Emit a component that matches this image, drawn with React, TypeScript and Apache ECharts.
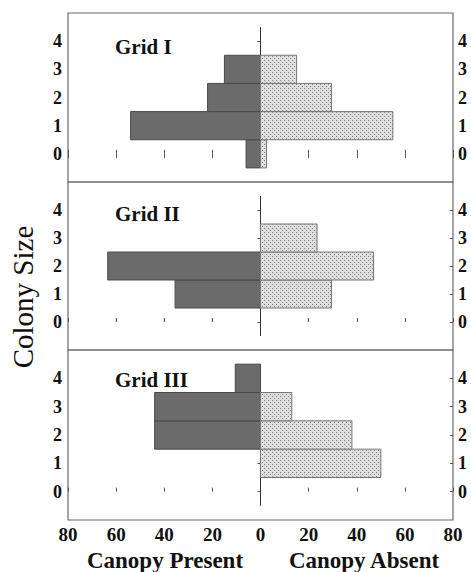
import React, { useEffect, useRef } from "react";
import * as echarts from "echarts";

// Colony sizes (y categories) and tick values
const colonySizes = [0, 1, 2, 3, 4];

// Percent of colonies per size class (Canopy Present drawn to the left)
const grid1Present = [6, 54, 22, 15, 0];
const grid1Absent = [2.5, 55, 29.5, 15, 0];
const grid2Present = [0, 35.5, 63.5, 0, 0];
const grid2Absent = [0, 29.5, 47, 23.5, 0];
const grid3Present = [0, 0, 44, 44, 10.5];
const grid3Absent = [0, 50, 38, 13, 0];

const panelNames = ["Grid I", "Grid II", "Grid III"];
const presentSets = [grid1Present, grid2Present, grid3Present];
const absentSets = [grid1Absent, grid2Absent, grid3Absent];

const SERIF = "'Liberation Serif', 'DejaVu Serif', serif";

export default function App() {
  const ref = useRef<HTMLDivElement>(null);

  useEffect(() => {
    if (!ref.current) return;
    const chart = echarts.init(ref.current, null, { renderer: "svg" });

    // dotted pattern for "Canopy Absent" bars
    const cv = document.createElement("canvas");
    cv.width = 4;
    cv.height = 4;
    const ctx = cv.getContext("2d")!;
    ctx.fillStyle = "#dedede";
    ctx.fillRect(0, 0, 4, 4);
    ctx.fillStyle = "#7a7a7a";
    ctx.fillRect(0, 0, 1, 1);
    ctx.fillRect(2, 2, 1, 1);
    const dotFill: any = { image: cv, repeat: "repeat" };

    const gridTops = [13, 182, 350];
    const gridHeights = [169, 168, 170];
    const gridLeft = 68;
    const gridRight = 18;

    const grids = gridTops.map((t, i) => ({
      left: gridLeft,
      right: gridRight,
      top: t,
      height: gridHeights[i],
      show: true,
      borderColor: "#6a6a6a",
      borderWidth: 1.2,
      backgroundColor: "transparent",
    }));

    const xAxes: any[] = gridTops.map((_, i) => ({
      type: "value",
      gridIndex: i,
      min: -80,
      max: 80,
      interval: 20,
      position: "bottom",
      axisLine: { show: false },
      axisTick: { show: true, inside: true, length: 4, lineStyle: { color: "#555" } },
      axisLabel: {
        show: i === 2,
        formatter: (v: number) => String(Math.abs(v)),
        fontFamily: SERIF,
        fontSize: 19,
        fontWeight: "bold",
        color: "#111",
        margin: 5,
      },
      splitLine: { show: false },
    }));
    xAxes.push({
      type: "value",
      gridIndex: 0,
      min: -80,
      max: 80,
      interval: 20,
      position: "top",
      axisLine: { show: false },
      axisTick: { show: true, inside: true, length: 4, lineStyle: { color: "#555" } },
      axisLabel: { show: false },
      splitLine: { show: false },
    });

    const yAxes: any[] = [];
    gridTops.forEach((_, i) => {
      yAxes.push({
        type: "value",
        gridIndex: i,
        min: -1,
        max: 5,
        interval: 1,
        position: "left",
        axisLine: { show: false },
        axisTick: { show: true, inside: false, length: 3, customValues: colonySizes, lineStyle: { color: "#555" } },
        axisLabel: {
          customValues: colonySizes,
          fontFamily: SERIF,
          fontSize: 18,
          fontWeight: "bold",
          color: "#111",
          margin: 6,
        },
        splitLine: { show: false },
      });
      yAxes.push({
        type: "value",
        gridIndex: i,
        min: -1,
        max: 5,
        interval: 1,
        position: "right",
        axisLine: { show: false },
        axisTick: { show: true, inside: true, length: 3, customValues: colonySizes, lineStyle: { color: "#555" } },
        axisLabel: {
          customValues: colonySizes,
          fontFamily: SERIF,
          fontSize: 18,
          fontWeight: "bold",
          color: "#111",
          margin: 5,
        },
        splitLine: { show: false },
      });
    });

    const makeRender = (fill: any, stroke: string) => (params: any, api: any) => {
      const v = api.value(0) as number;
      const s = api.value(1) as number;
      const a = api.coord([Math.min(v, 0), s + 0.5]);
      const b = api.coord([Math.max(v, 0), s - 0.5]);
      return {
        type: "rect",
        shape: { x: a[0], y: a[1], width: b[0] - a[0], height: b[1] - a[1] },
        style: { fill, stroke, lineWidth: 1 },
      };
    };

    const series: any[] = [];
    gridTops.forEach((_, i) => {
      series.push({
        type: "line",
        xAxisIndex: i,
        yAxisIndex: i * 2,
        data: [
          [0, -0.5],
          [0, 4.5],
        ],
        showSymbol: false,
        symbol: "none",
        lineStyle: { color: "#333", width: 1 },
        z: 1,
        silent: true,
      });
      const pres = presentSets[i]
        .map((v, k) => [-v, colonySizes[k]])
        .filter((d) => d[0] !== 0);
      const abs = absentSets[i]
        .map((v, k) => [v, colonySizes[k]])
        .filter((d) => d[0] !== 0);
      series.push({
        type: "custom",
        xAxisIndex: i,
        yAxisIndex: i * 2,
        data: pres,
        encode: { x: 0, y: 1 },
        renderItem: makeRender("#6b6b6b", "#4a4a4a"),
        z: 2,
      });
      series.push({
        type: "custom",
        xAxisIndex: i,
        yAxisIndex: i * 2,
        data: abs,
        encode: { x: 0, y: 1 },
        renderItem: makeRender(dotFill, "#777"),
        z: 2,
      });
    });

    const panelLabelY = [47, 214, 380];
    const graphic: any[] = panelNames.map((name, i) => ({
      type: "text",
      left: 115,
      top: panelLabelY[i] - 11,
      style: {
        text: name,
        fontFamily: SERIF,
        fontSize: 21,
        fontWeight: "bold",
        fill: "#111",
      },
    }));
    graphic.push(
      {
        type: "text",
        x: 23,
        y: 297,
        rotation: Math.PI / 2,
        style: {
          text: "Colony Size",
          fontFamily: SERIF,
          fontSize: 29,
          fill: "#111",
          align: "center",
          verticalAlign: "middle",
        },
      },
      {
        type: "text",
        x: 165,
        y: 560,
        style: {
          text: "Canopy Present",
          fontFamily: SERIF,
          fontSize: 23,
          fontWeight: "bold",
          fill: "#111",
          align: "center",
          verticalAlign: "middle",
        },
      },
      {
        type: "text",
        x: 364,
        y: 560,
        style: {
          text: "Canopy Absent",
          fontFamily: SERIF,
          fontSize: 23,
          fontWeight: "bold",
          fill: "#111",
          align: "center",
          verticalAlign: "middle",
        },
      }
    );

    chart.setOption({
      animation: false,
      backgroundColor: "#ffffff",
      grid: grids,
      xAxis: xAxes,
      yAxis: yAxes,
      series,
      graphic,
    });

    return () => chart.dispose();
  }, []);

  return (
    <div
      ref={ref}
      style={{ position: "absolute", left: 0, top: 0, width: 471, height: 572 }}
    />
  );
}
